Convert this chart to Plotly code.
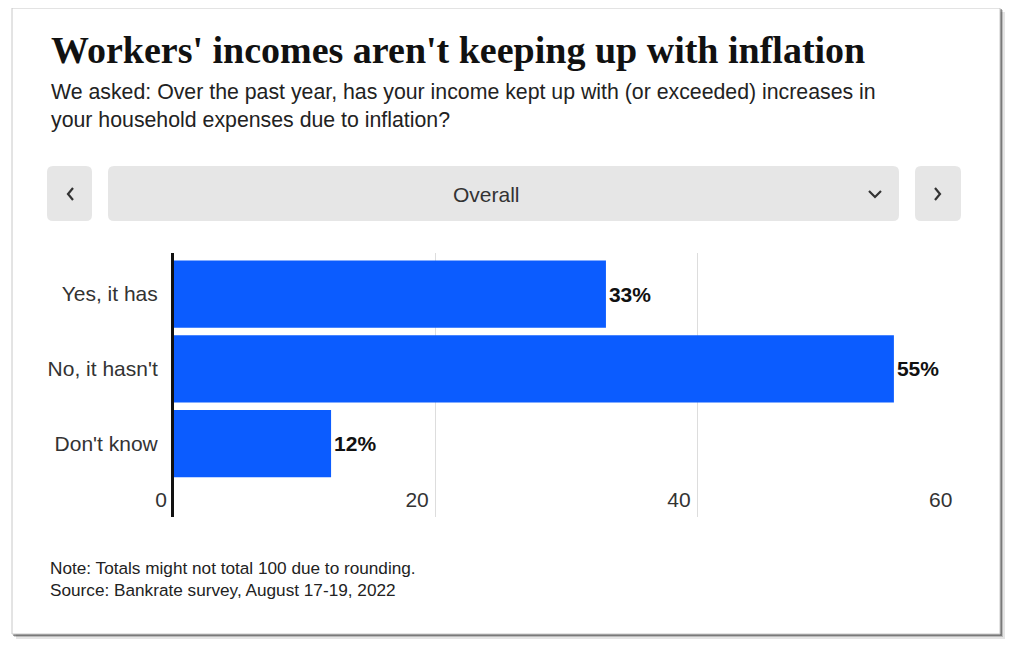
import plotly.graph_objects as go

categories = ["Yes, it has", "No, it hasn't", "Don't know"]
values = [33, 55, 12]
value_labels = ["33%", "55%", "12%"]
x_ticks = [0, 20, 40, 60]

title = "Workers' incomes aren't keeping up with inflation"
subtitle = "We asked: Over the past year, has your income kept up with (or exceeded) increases in<br>your household expenses due to inflation?"
note = "Note: Totals might not total 100 due to rounding.<br>Source: Bankrate survey, August 17-19, 2022"

OFF = 8  # page offset of the figure in the browser
W_TOT, H_TOT = 1013 - 2 * OFF, 651 - 2 * OFF
L, R, T, B = 174 - OFF, W_TOT - (960 - OFF), 253 - OFF, H_TOT - (517 - OFF)
PW = W_TOT - L - R
PH = H_TOT - T - B


def px(x):
    return (x - OFF - L) / PW


def py(y):
    return (H_TOT - B - (y - OFF)) / PH


def rrect(x0, y0, x1, y1, r):
    a0, a1 = px(x0), px(x1)
    b0, b1 = py(y0), py(y1)
    rx = r / PW
    ry = r / PH
    return (f"M {a0+rx} {b0} L {a1-rx} {b0} Q {a1} {b0} {a1} {b0-ry} "
            f"L {a1} {b1+ry} Q {a1} {b1} {a1-rx} {b1} L {a0+rx} {b1} "
            f"Q {a0} {b1} {a0} {b1+ry} L {a0} {b0-ry} Q {a0} {b0} {a0+rx} {b0} Z")


BAR = "#0B5CFF"
TXT = "#222222"
SANS = "Liberation Sans, Arial"

fig = go.Figure()
fig.add_trace(go.Bar(
    y=categories, x=values, orientation="h",
    marker=dict(color=BAR, line=dict(width=0)),
    text=value_labels, textposition="outside", cliponaxis=False,
    textfont=dict(family=SANS, size=21, color="#111111", weight="bold"),
    width=0.9,
))

shapes = []
for op, off in [(0.10, 5), (0.18, 3), (0.35, 2)]:
    shapes.append(dict(type="rect", xref="paper", yref="paper", layer="below",
                       x0=px(12 + off - 1), x1=px(1000 + off), y0=py(8 + off - 1), y1=py(634 + off),
                       fillcolor=f"rgba(0,0,0,{op})", line=dict(width=0)))
shapes.append(dict(type="rect", xref="paper", yref="paper", layer="below",
                   x0=px(12), x1=px(1000), y0=py(8), y1=py(634),
                   fillcolor="white", line=dict(color="#c8c8c8", width=1)))
for (x0, x1) in [(47, 92), (108, 899), (915, 961)]:
    shapes.append(dict(type="path", xref="paper", yref="paper", layer="below",
                       path=rrect(x0, 166, x1, 221, 6), fillcolor="#e6e6e6", line=dict(width=0)))


def chevron(pts):
    p = " ".join(("M" if i == 0 else "L") + f" {px(x)} {py(y)}" for i, (x, y) in enumerate(pts))
    return dict(type="path", xref="paper", yref="paper", path=p,
                line=dict(color="#333333", width=2.2))


shapes.append(chevron([(73, 188), (68, 194), (73, 200)]))
shapes.append(chevron([(935, 188), (940, 194), (935, 200)]))
shapes.append(chevron([(869, 191), (875, 197), (881, 191)]))

annotations = [
    dict(text=title, x=px(49), y=py(50), xref="paper", yref="paper", xanchor="left", yanchor="middle",
         showarrow=False, font=dict(family="Liberation Serif, DejaVu Serif", size=38, color="#111111", weight="bold")),
    dict(text=subtitle, x=px(49), y=py(106), xref="paper", yref="paper", xanchor="left", yanchor="middle",
         align="left", showarrow=False, font=dict(family=SANS, size=21.3, color=TXT)),
    dict(text="Overall", x=px(486), y=py(194), xref="paper", yref="paper", xanchor="center", yanchor="middle",
         showarrow=False, font=dict(family=SANS, size=21, color="#333333")),
    dict(text=note, x=px(48), y=py(579), xref="paper", yref="paper", xanchor="left", yanchor="middle",
         align="left", showarrow=False, font=dict(family=SANS, size=17.2, color=TXT)),
]

fig.update_layout(
    width=W_TOT, height=H_TOT,
    margin=dict(l=L, r=R, t=T, b=B, pad=0),
    paper_bgcolor="white", plot_bgcolor="rgba(0,0,0,0)",
    showlegend=False,
    bargap=0.1,
    shapes=shapes, annotations=annotations,
    xaxis=dict(range=[0, 60.05], tickvals=x_ticks, ticktext=[str(t) for t in x_ticks],
               ticklabelposition="inside left", ticklabeloverflow="allow", ticklabelshift=-7,
               showgrid=True, gridcolor="#dddddd", gridwidth=1,
               zeroline=False, showline=False, ticks="",
               tickfont=dict(family=SANS, size=21, color="#333333")),
    yaxis=dict(categoryorder="array", categoryarray=categories, range=[2.98, -0.55],
               showline=True, linecolor="#111111", linewidth=3, ticks="", ticklen=0,
               showgrid=False, zeroline=False, ticklabelstandoff=9,
               tickfont=dict(family=SANS, size=21, color="#333333")),
    font=dict(family=SANS),
)

fig.write_html("out.html")
